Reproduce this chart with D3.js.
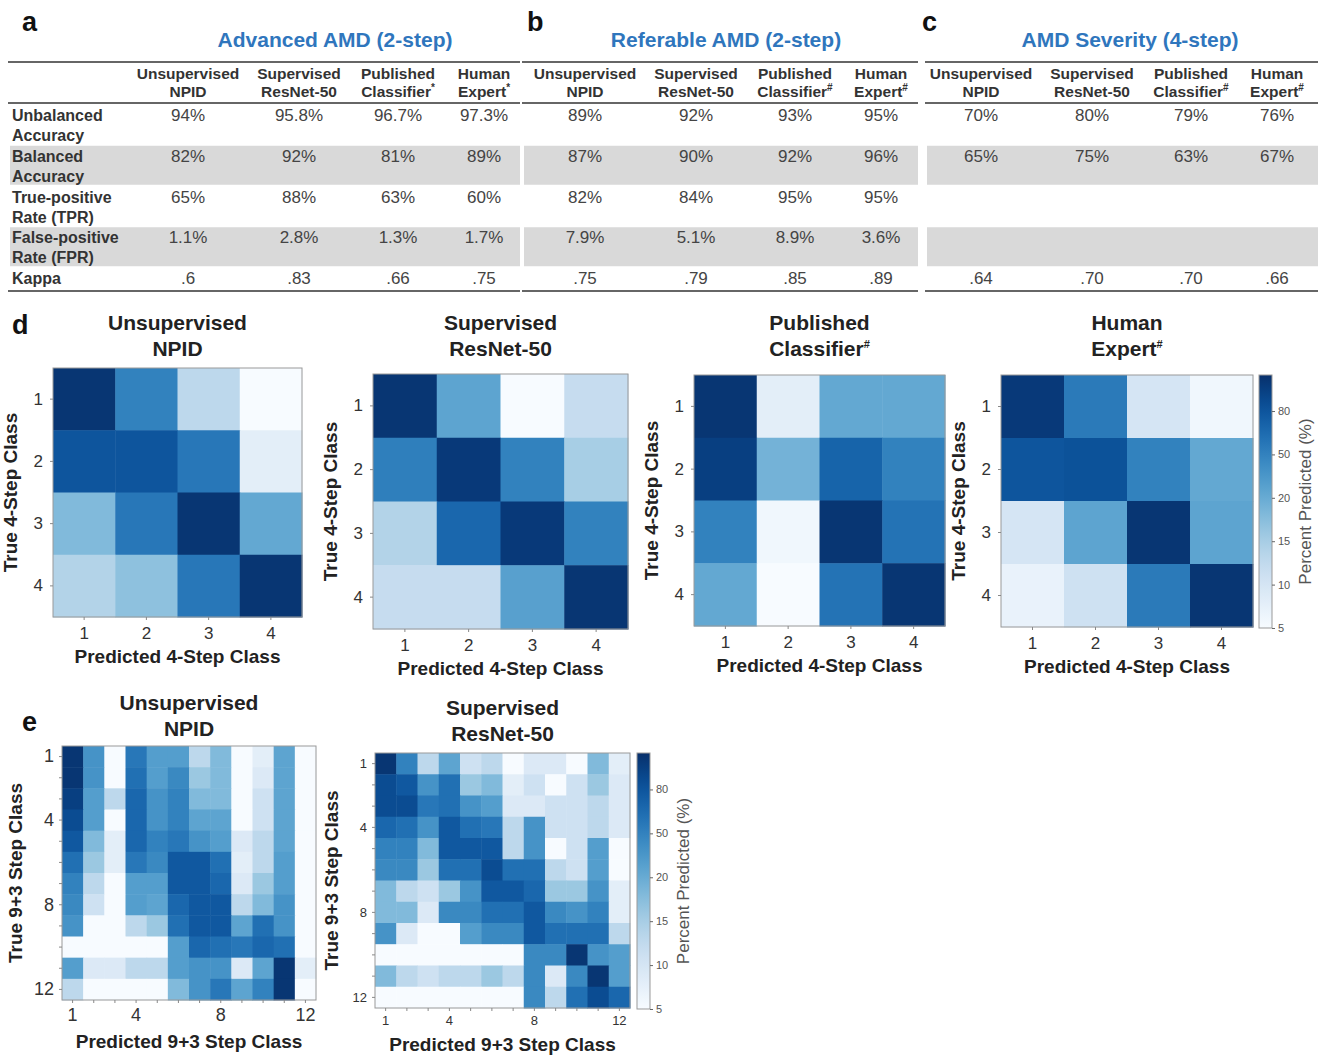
<!DOCTYPE html>
<meta charset="utf-8">
<script src="https://cdn.jsdelivr.net/npm/d3@7"></script>
<style>
  body { margin: 0; background: #fff; }
  text { font-family: "Liberation Sans", Arial, sans-serif; }
</style>
<div id="chart"></div>
<script>
// ---- table data ----
var metricLabels = [["Unbalanced", "Accuracy"], ["Balanced", "Accuracy"], ["True-positive", "Rate (TPR)"], ["False-positive", "Rate (FPR)"], ["Kappa"]];
var methodNames = [["Unsupervised", "NPID"], ["Supervised", "ResNet-50"], ["Published", "Classifier"], ["Human", "Expert"]];
var advancedMarks = ["", "", "*", "*"];
var otherMarks = ["", "", "#", "#"];

var advancedAMD = [
  ["94%", "95.8%", "96.7%", "97.3%"],
  ["82%", "92%", "81%", "89%"],
  ["65%", "88%", "63%", "60%"],
  ["1.1%", "2.8%", "1.3%", "1.7%"],
  [".6", ".83", ".66", ".75"]
];
var referableAMD = [
  ["89%", "92%", "93%", "95%"],
  ["87%", "90%", "92%", "96%"],
  ["82%", "84%", "95%", "95%"],
  ["7.9%", "5.1%", "8.9%", "3.6%"],
  [".75", ".79", ".85", ".89"]
];
var severityAMD = [
  ["70%", "80%", "79%", "76%"],
  ["65%", "75%", "63%", "67%"],
  [],
  [],
  [".64", ".70", ".70", ".66"]
];

// ---- confusion matrices, percent predicted (rows = true class) ----
var npid4 = [
  [97, 50, 13, 5],
  [80, 80, 57, 8],
  [18, 57, 97, 22],
  [14, 17, 57, 97]
];
var resnet4 = [
  [97, 25, 5, 12],
  [52, 95, 50, 15],
  [14, 68, 95, 50],
  [12, 12, 28, 97]
];
var published4 = [
  [97, 8, 22, 22],
  [92, 19, 70, 50],
  [50, 6, 97, 60],
  [22, 5, 60, 97]
];
var expert4 = [
  [95, 55, 10, 6],
  [80, 82, 50, 22],
  [10, 25, 97, 25],
  [7, 11, 55, 97]
];
var npid12 = [
  [97, 38, 5, 57, 30, 30, 13, 18, 5, 8, 25, 5],
  [97, 38, 5, 62, 30, 45, 16, 18, 5, 9, 25, 5],
  [92, 30, 13, 68, 38, 50, 18, 18, 5, 11, 25, 5],
  [85, 30, 5, 68, 38, 50, 25, 25, 5, 11, 25, 5],
  [78, 18, 8, 68, 50, 57, 38, 30, 9, 13, 25, 5],
  [62, 16, 8, 57, 45, 78, 78, 62, 8, 13, 30, 5],
  [50, 13, 5, 30, 30, 78, 78, 68, 9, 16, 30, 5],
  [45, 11, 5, 30, 25, 68, 78, 78, 13, 18, 38, 5],
  [38, 5, 5, 13, 16, 62, 78, 78, 25, 62, 38, 5],
  [4, 4, 4, 4, 4, 30, 68, 62, 57, 68, 62, 5],
  [30, 9, 9, 13, 13, 30, 38, 38, 9, 25, 97, 8],
  [13, 4, 4, 4, 4, 18, 38, 57, 25, 50, 97, 5]
];
var resnet12 = [
  [97, 50, 13, 25, 11, 13, 5, 9, 9, 5, 18, 8],
  [85, 78, 38, 62, 16, 18, 8, 11, 5, 11, 16, 9],
  [85, 85, 57, 62, 38, 30, 9, 9, 11, 11, 13, 9],
  [68, 62, 38, 78, 62, 57, 13, 38, 11, 11, 13, 9],
  [50, 50, 18, 78, 78, 78, 13, 38, 5, 11, 30, 5],
  [45, 45, 16, 62, 62, 85, 62, 62, 13, 11, 30, 5],
  [18, 13, 11, 16, 38, 78, 78, 68, 16, 16, 38, 8],
  [18, 18, 9, 45, 45, 62, 62, 78, 45, 38, 50, 8],
  [38, 9, 5, 5, 30, 45, 45, 78, 62, 62, 62, 13],
  [4, 4, 4, 4, 4, 4, 4, 45, 45, 97, 38, 30],
  [18, 13, 11, 13, 13, 16, 13, 45, 9, 45, 97, 30],
  [4, 4, 4, 4, 4, 4, 4, 45, 13, 62, 85, 68]
];
var cbarTicks = [5, 10, 15, 20, 50, 80];

var width = 1326, height = 1057;
var svg = d3.select("#chart").append("svg")
  .attr("width", width)
  .attr("height", height);

// colorbar is spaced evenly per tick, so the colour follows the same piecewise scale
var cbPos = d3.scaleLinear().domain([5, 10, 15, 20, 50, 80, 100]).range([0, 1, 2, 3, 4, 5, 5.83]).clamp(true);
function color(v) { return d3.interpolateBlues(cbPos(v) / 5.83); }

// ---------- tables a, b, c ----------
var tables = [
  {letter: "a", lx: 22, title: "Advanced AMD (2-step)", tx: 335, rows: advancedAMD, marks: advancedMarks, x0: 8, x1: 520, dataX: 128, labels: true},
  {letter: "b", lx: 527, title: "Referable AMD (2-step)", tx: 726, rows: referableAMD, marks: otherMarks, x0: 522, x1: 918, dataX: 525, labels: false},
  {letter: "c", lx: 922, title: "AMD Severity (4-step)", tx: 1130, rows: severityAMD, marks: otherMarks, x0: 925, x1: 1318, dataX: 921, labels: false}
];
var colOffset = d3.scaleOrdinal().domain([0, 1, 2, 3]).range([60, 171, 270, 356]);
var rowY = d3.scaleLinear().domain([0, 4]).range([121, 284]);

tables.forEach(function(t) {
  var g = svg.append("g");
  g.append("text").attr("x", t.lx).attr("y", 31)
    .attr("font-size", 27).attr("font-weight", "bold").attr("fill", "#111").text(t.letter);
  g.append("text").attr("x", t.tx).attr("y", 47).attr("text-anchor", "middle")
    .attr("font-size", 21).attr("font-weight", "bold").attr("fill", "#2f76bd").text(t.title);

  // grey bands on rows 2 and 4
  [1, 3].forEach(function(r) {
    g.append("rect").attr("x", t.x0 + 2).attr("y", rowY(r) - 16)
      .attr("width", t.x1 - t.x0 - 2).attr("height", 39).attr("fill", "#d9d9d9");
  });

  [62, 103, 291].forEach(function(y) {
    g.append("line").attr("x1", t.x0).attr("x2", t.x1).attr("y1", y).attr("y2", y)
      .attr("stroke", "#666").attr("stroke-width", 2);
  });

  methodNames.forEach(function(m, i) {
    var cx = t.dataX + colOffset(i);
    g.append("text").attr("x", cx).attr("y", 79).attr("text-anchor", "middle")
      .attr("font-size", 15.5).attr("font-weight", "bold").attr("fill", "#333").text(m[0]);
    var h = g.append("text").attr("x", cx).attr("y", 97).attr("text-anchor", "middle")
      .attr("font-size", 15.5).attr("font-weight", "bold").attr("fill", "#333").text(m[1]);
    if (t.marks[i]) h.append("tspan").attr("font-size", 10).attr("dy", -6).text(t.marks[i]);
  });

  if (t.labels) {
    metricLabels.forEach(function(lab, r) {
      lab.forEach(function(s, k) {
        g.append("text").attr("x", 12).attr("y", rowY(r) + k * 20)
          .attr("font-size", 16).attr("font-weight", "bold").attr("fill", "#333").text(s);
      });
    });
  }

  t.rows.forEach(function(vals, r) {
    vals.forEach(function(v, i) {
      g.append("text").attr("x", t.dataX + colOffset(i)).attr("y", rowY(r))
        .attr("text-anchor", "middle").attr("font-size", 17).attr("fill", "#444").text(v);
    });
  });
});

// ---------- heatmaps ----------
function heatmap(p) {
  var n = p.matrix.length;
  var classes = d3.range(1, n + 1);
  var x = d3.scaleBand().domain(classes).range([p.x, p.x + p.size]);
  var y = d3.scaleBand().domain(classes).range([p.y, p.y + p.size]);
  var g = svg.append("g");

  p.title.forEach(function(s, k) {
    var tt = g.append("text").attr("x", p.x + p.size / 2).attr("y", p.titleY + k * 26)
      .attr("text-anchor", "middle").attr("font-size", 21).attr("font-weight", "bold")
      .attr("fill", "#222").text(s);
    if (k === 1 && p.mark) tt.append("tspan").attr("font-size", 11).attr("dy", -8).text(p.mark);
  });

  p.matrix.forEach(function(row, i) {
    row.forEach(function(v, j) {
      g.append("rect")
        .attr("x", x(j + 1)).attr("y", y(i + 1))
        .attr("width", x.bandwidth() + 0.5).attr("height", y.bandwidth() + 0.5)
        .attr("fill", color(v));
    });
  });
  g.append("rect").attr("x", p.x).attr("y", p.y).attr("width", p.size).attr("height", p.size)
    .attr("fill", "none").attr("stroke", "#999").attr("stroke-width", 1);

  var xAxis = d3.axisBottom(x).tickSize(3).tickPadding(p.tickPad);
  var yAxis = d3.axisLeft(y).tickSize(3).tickPadding(p.tickPad);
  if (p.tickValues) {
    xAxis.tickFormat(function(d) { return p.tickValues.indexOf(d) >= 0 ? d : ""; });
    yAxis.tickFormat(function(d) { return p.tickValues.indexOf(d) >= 0 ? d : ""; });
  }
  var gx = g.append("g").attr("transform", "translate(0," + (p.y + p.size) + ")").call(xAxis);
  var gy = g.append("g").attr("transform", "translate(" + p.x + ",0)").call(yAxis);
  [gx, gy].forEach(function(a) {
    a.select(".domain").remove();
    a.selectAll("line").attr("stroke", "#888");
    a.selectAll("text").attr("font-size", p.tickFont).attr("fill", "#333")
      .attr("font-family", "'Liberation Sans', Arial, sans-serif");
  });

  g.append("text").attr("x", p.x + p.size / 2).attr("y", p.y + p.size + p.xLabelGap)
    .attr("text-anchor", "middle").attr("font-size", 19).attr("font-weight", "bold")
    .attr("fill", "#222").text(p.xLabel);
  g.append("text")
    .attr("transform", "translate(" + (p.x - p.yLabelGap) + "," + (p.y + p.size / 2) + ") rotate(-90)")
    .attr("text-anchor", "middle").attr("font-size", 19).attr("font-weight", "bold")
    .attr("fill", "#222").text(p.yLabel);
}

function colorbar(c) {
  var id = "grad" + c.id;
  var grad = svg.append("defs").append("linearGradient").attr("id", id)
    .attr("x1", 0).attr("x2", 0).attr("y1", 1).attr("y2", 0);
  d3.range(0, 1.001, 0.05).forEach(function(s) {
    grad.append("stop").attr("offset", s).attr("stop-color", d3.interpolateBlues(s));
  });
  svg.append("rect").attr("x", c.x).attr("y", c.y).attr("width", c.w).attr("height", c.h)
    .attr("fill", "url(#" + id + ")").attr("stroke", "#999");
  var sc = d3.scaleLinear().domain(cbPos.domain())
    .range(cbPos.range().map(function(r) { return c.y + c.h - r / 5.83 * c.h; }));
  var ax = svg.append("g").attr("transform", "translate(" + (c.x + c.w) + ",0)")
    .call(d3.axisRight(sc).tickValues(cbarTicks).tickSize(3).tickFormat(d3.format("d")));
  ax.select(".domain").remove();
  ax.selectAll("line").attr("stroke", "#666");
  ax.selectAll("text").attr("font-size", 11).attr("fill", "#555")
    .attr("font-family", "'Liberation Sans', Arial, sans-serif");
  svg.append("text")
    .attr("transform", "translate(" + (c.x + c.w + 39) + "," + (c.y + c.h / 2) + ") rotate(-90)")
    .attr("text-anchor", "middle").attr("font-size", 17).attr("fill", "#555")
    .text("Percent Predicted (%)");
}

svg.append("text").attr("x", 12).attr("y", 334).attr("font-size", 27)
  .attr("font-weight", "bold").attr("fill", "#111").text("d");
svg.append("text").attr("x", 22).attr("y", 731).attr("font-size", 27)
  .attr("font-weight", "bold").attr("fill", "#111").text("e");

var four = {xLabel: "Predicted 4-Step Class", yLabel: "True 4-Step Class", tickFont: 17, tickPad: 7, xLabelGap: 46, yLabelGap: 36};
var panelsD = [
  {matrix: npid4, title: ["Unsupervised", "NPID"], x: 53, y: 368, size: 249, titleY: 330},
  {matrix: resnet4, title: ["Supervised", "ResNet-50"], x: 373, y: 374, size: 255, titleY: 330},
  {matrix: published4, title: ["Published", "Classifier"], mark: "#", x: 694, y: 375, size: 251, titleY: 330},
  {matrix: expert4, title: ["Human", "Expert"], mark: "#", x: 1001, y: 375, size: 252, titleY: 330}
];
panelsD.forEach(function(p) { heatmap(Object.assign({}, four, p)); });
colorbar({id: "d", x: 1259, y: 375, w: 13, h: 253});

heatmap({matrix: npid12, title: ["Unsupervised", "NPID"], x: 62, y: 746, size: 254, titleY: 710,
  tickValues: [1, 4, 8, 12], tickFont: 18, tickPad: 5, xLabelGap: 48, yLabelGap: 40,
  xLabel: "Predicted 9+3 Step Class", yLabel: "True 9+3 Step Class"});
heatmap({matrix: resnet12, title: ["Supervised", "ResNet-50"], x: 375, y: 753, size: 255, titleY: 715,
  tickValues: [1, 4, 8, 12], tickFont: 13, tickPad: 5, xLabelGap: 43, yLabelGap: 37,
  xLabel: "Predicted 9+3 Step Class", yLabel: "True 9+3 Step Class"});
colorbar({id: "e", x: 637, y: 753, w: 13, h: 256});
</script>
